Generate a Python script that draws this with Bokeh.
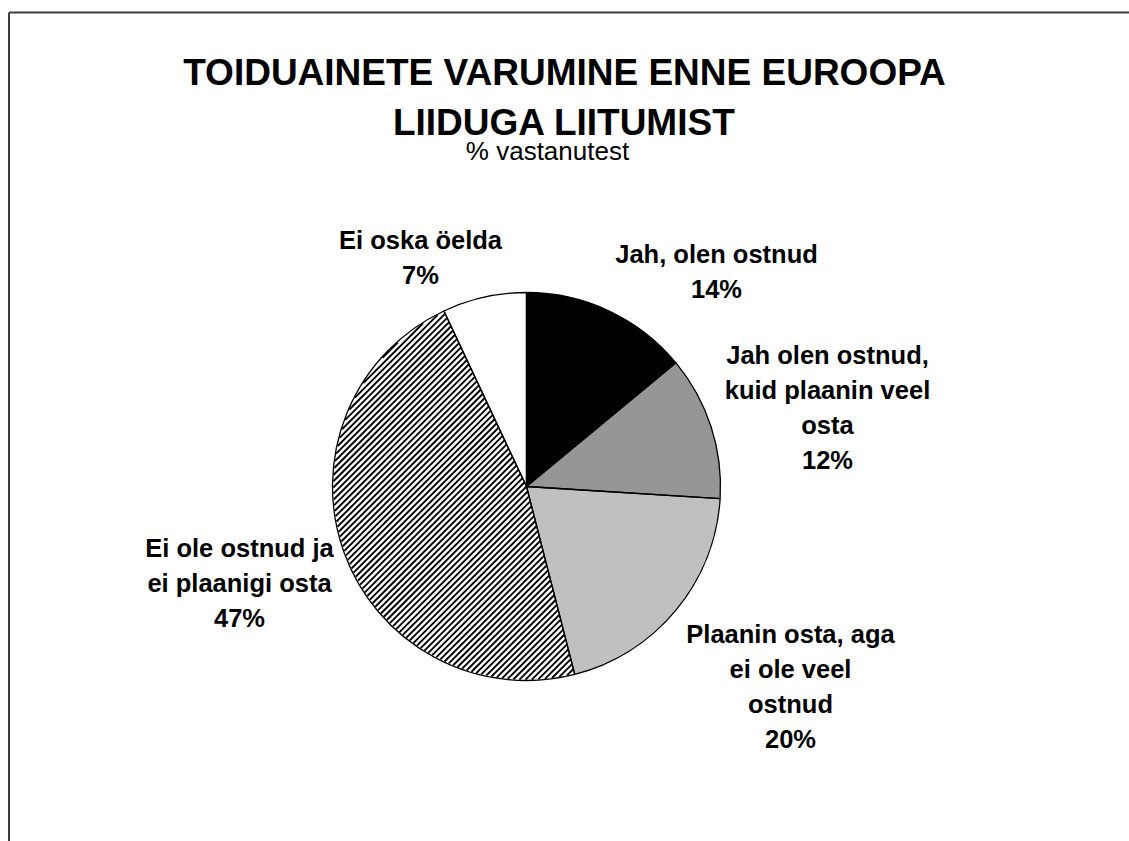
import math
from bokeh.plotting import figure
from bokeh.models import ColumnDataSource, Range1d
from bokeh.core.properties import value
from bokeh.embed import file_html
from bokeh.resources import INLINE

# ---- data ----
categories = [
    "Jah, olen ostnud",
    "Jah olen ostnud,\nkuid plaanin veel\nosta",
    "Plaanin osta, aga\nei ole veel\nostnud",
    "Ei ole ostnud ja\nei plaanigi osta",
    "Ei oska öelda",
]
values = [14, 12, 20, 47, 7]
fills = ["#000000", "#969696", "#C0C0C0", "#FFFFFF", "#FFFFFF"]
hatched = [False, False, False, True, False]
title_lines = ["TOIDUAINETE VARUMINE ENNE EUROOPA", "LIIDUGA LIITUMIST"]
subtitle = "% vastanutest"

# ---- layout (page pixel coordinates; Bokeh page has no body margin) ----
W, H = 1129, 841
def px(x):
    return x
def py(y):
    return H - y

pie_cx, pie_cy, pie_r = 526, 486, 194
label_pos = [(716, 253), (827, 354), (790, 633), (239, 547), (420, 239)]
line_step = 35
hatch_step = 6.2      # horizontal distance between hatch lines
FONT = value("Liberation Sans")

p = figure(width=W, height=H, output_backend="svg", toolbar_location=None,
           x_range=Range1d(0, W), y_range=Range1d(0, H), min_border=0)
p.axis.visible = False
p.grid.visible = False
p.outline_line_color = None
p.background_fill_color = "white"
p.border_fill_color = "white"

# frame (top and left edges visible in window)
p.segment(x0=[px(8.5), px(8.5)], y0=[py(12), py(12)],
          x1=[px(1200), px(8.5)], y1=[py(12), py(900)],
          line_color="#3c3c3c", line_width=2)

# pie wedges (clockwise from 12 o'clock)
total = sum(values)
starts, ends, cw0, cw1 = [], [], [], []
cum = 0.0
for v in values:
    cw0.append(360.0 * cum / total)
    starts.append(math.pi / 2 - 2 * math.pi * cum / total)
    cum += v
    cw1.append(360.0 * cum / total)
    ends.append(math.pi / 2 - 2 * math.pi * cum / total)

cx, cy = px(pie_cx), py(pie_cy)
src = ColumnDataSource(dict(start=starts, end=ends, fill=fills))
p.wedge(x=cx, y=cy, radius=pie_r, start_angle="start", end_angle="end",
        direction="clock", fill_color="fill", line_color=None, source=src)

# 45-degree upward diagonal hatch, clipped to the hatched sector(s)
def cross(a, b):
    return a[0] * b[1] - a[1] * b[0]

hx, hy = [], []
d = (1 / math.sqrt(2), 1 / math.sqrt(2))
n = (1 / math.sqrt(2), -1 / math.sqrt(2))
s = hatch_step / math.sqrt(2)
rr = pie_r - 0.8
for i, h in enumerate(hatched):
    if not h:
        continue
    ta = math.radians(90 - cw1[i])
    tb = math.radians(90 - cw0[i])
    u1 = (math.cos(ta), math.sin(ta))
    u2 = (math.cos(tb), math.sin(tb))
    K = int(rr / s) + 1
    for k in range(-K, K + 1):
        c0 = (k * s * n[0], k * s * n[1])
        h2 = rr * rr - (c0[0] ** 2 + c0[1] ** 2)
        if h2 <= 0:
            continue
        lo, hi = -math.sqrt(h2), math.sqrt(h2)
        for a0, a1 in ((cross(u1, c0), cross(u1, d)), (cross(c0, u2), cross(d, u2))):
            if abs(a1) < 1e-12:
                if a0 < 0:
                    lo, hi = 1, 0
            elif a1 > 0:
                lo = max(lo, -a0 / a1)
            else:
                hi = min(hi, -a0 / a1)
        if hi - lo <= 0.3:
            continue
        hx.append([cx + c0[0] + lo * d[0], cx + c0[0] + hi * d[0]])
        hy.append([cy + c0[1] + lo * d[1], cy + c0[1] + hi * d[1]])

p.multi_line(xs=hx, ys=hy, line_color="black", line_width=1.9, line_cap="butt")

# outlines on top
p.wedge(x=cx, y=cy, radius=pie_r, start_angle="start", end_angle="end",
        direction="clock", fill_color=None, line_color="black", line_width=1.3,
        source=src)

# labels
lx, ly, lt = [], [], []
for cat, v, (lcx, by) in zip(categories, values, label_pos):
    lines = cat.split("\n") + [f"{v}%"]
    for i, ln in enumerate(lines):
        lx.append(px(lcx))
        ly.append(py(by + i * line_step))
        lt.append(ln)
p.text(x=lx, y=ly, text=lt, text_font=FONT, text_font_style="bold",
       text_font_size="25.5px", text_align="center", text_baseline="alphabetic",
       text_color="black")

# titles
p.text(x=[px(564), px(564)], y=[py(72), py(122)], text=title_lines, text_font=FONT,
       text_font_style="bold", text_font_size="37px", text_align="center",
       text_baseline="alphabetic", text_color="black")
p.text(x=[px(547)], y=[py(150)], text=[subtitle], text_font=FONT,
       text_font_size="26px", text_align="center", text_baseline="alphabetic",
       text_color="black")

open("out.html", "w").write(file_html(p, INLINE))
